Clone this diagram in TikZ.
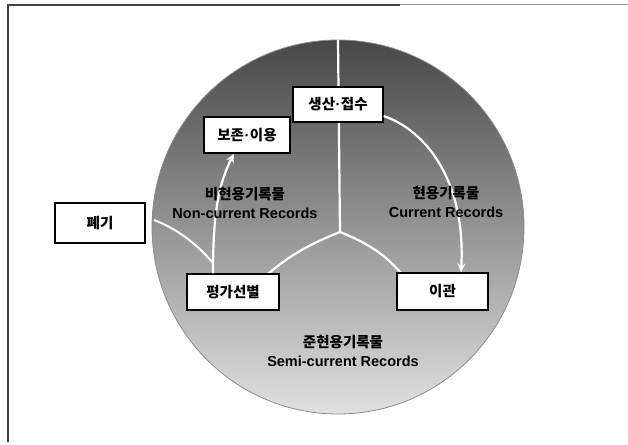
\documentclass[tikz,border=0pt]{standalone}
\usepackage{fontspec}
\setmainfont{Liberation Sans}
\newfontfamily\kr{Noto Sans CJK KR}
\newcommand{\mdot}{{\normalfont\bfseries\kern0.5pt·\kern0.5pt}}
\usetikzlibrary{arrows.meta}
\begin{document}
\begin{tikzpicture}[x=1pt,y=-1pt,
  stagebox/.style={draw=black,line width=1.3pt,fill=white,inner sep=0pt,font=\kr\bfseries\fontsize{14.5}{16}\selectfont},
  zonelabel/.style={align=center,font=\bfseries\fontsize{14.5}{19}\selectfont,inner sep=0pt},
  divider/.style={draw=white,line width=2.2pt},
  flow/.style={draw=white,line width=2.2pt,-{Stealth[length=9pt,width=8pt]}},
  flowline/.style={draw=white,line width=2pt}]
\useasboundingbox (0,0) rectangle (628,444);
\fill[white] (0,0) rectangle (628,444);
% frame
\draw[black!75,line width=1.4pt] (8,442) -- (8,5) -- (400,5);
\draw[black!40,line width=1pt] (400,5) -- (628,5);
% disc
\shade[top color=black!72,middle color=black!46,bottom color=black!12,draw=black!45,line width=0.8pt]
  (338,227) circle[x radius=186,y radius=187];
% dividers
\coordinate (ctr) at (340,232);
\coordinate (topedge) at (338,40);
\draw[divider] (topedge) -- (ctr);
\draw[divider] (ctr) .. controls (310,244) and (290,255) .. (268,274);
\draw[divider] (ctr) .. controls (370,244) and (385,255) .. (401,273);
% boxes
\node[stagebox,minimum width=90,minimum height=35] (sj) at (338,104.5) {생산\mdot 접수};
\node[stagebox,minimum width=86,minimum height=36] (bj) at (247,135) {보존\mdot 이용};
\node[stagebox,minimum width=90,minimum height=40] (pg) at (100,223) {폐기};
\node[stagebox,minimum width=92,minimum height=36] (pgsb) at (233,292) {평가선별};
\node[stagebox,minimum width=91,minimum height=37] (ig) at (442.5,291.5) {이관};
% flows
\draw[flow] (sj.east |- 0,116) .. controls (425,130) and (466,180) .. (ig.north -| 461,0);
\draw[flow] (pgsb.north -| 213,0) .. controls (213,215) and (218,185) .. (bj.south -| 234,0);
\coordinate (leftedge) at (154,220);
\draw[flowline] (212,262) .. controls (195,242) and (175,228) .. (leftedge);
% zone labels
\node[zonelabel] (nc) at (245,203) {{\kr\bfseries 비현용기록물}\\Non-current Records};
\node[zonelabel] (cu) at (446,202) {{\kr\bfseries 현용기록물}\\Current Records};
\node[zonelabel] (sc) at (343,351) {{\kr\bfseries 준현용기록물}\\Semi-current Records};
\end{tikzpicture}
\end{document}
